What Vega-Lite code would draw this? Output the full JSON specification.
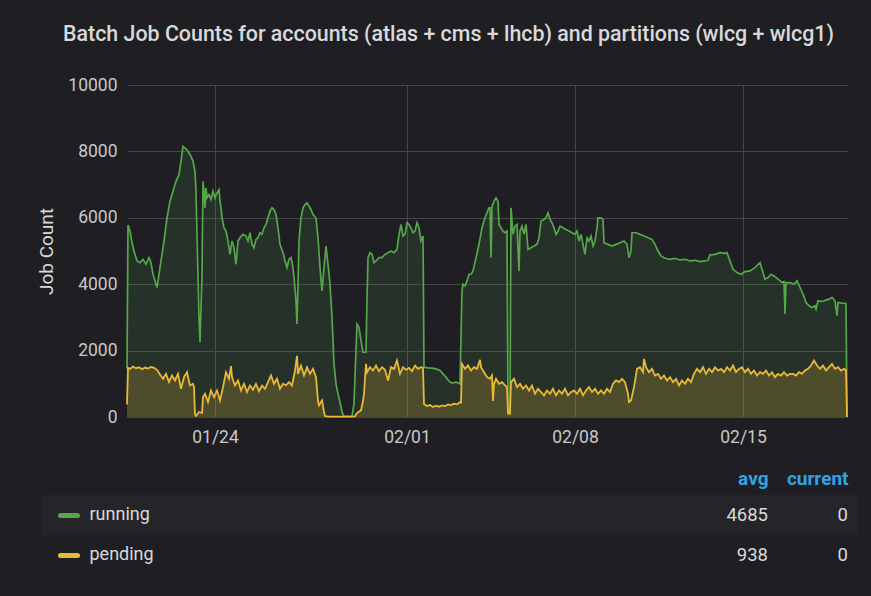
{
  "$schema": "https://vega.github.io/schema/vega-lite/v6.json",
  "background": "#1f1f23",
  "padding": {"left": 37, "top": 23, "right": 13, "bottom": 36},
  "autosize": {"type": "pad"},
  "spacing": 23,
  "config": {
    "font": "Roboto",
    "view": {"stroke": null},
    "axis": {"labelFont": "Roboto", "titleFont": "Roboto"},
    "text": {"font": "Roboto"}
  },
  "datasets": {
    "running": [
      {"t":"2021-01-20T08:00","v":1450},{"t":"2021-01-20T09:00","v":5780},{"t":"2021-01-20T11:00","v":5600},{"t":"2021-01-20T13:00","v":5250},
      {"t":"2021-01-20T15:00","v":5000},{"t":"2021-01-20T18:00","v":4700},{"t":"2021-01-20T21:00","v":4650},{"t":"2021-01-21T00:00","v":4750},
      {"t":"2021-01-21T03:00","v":4600},{"t":"2021-01-21T06:00","v":4800},{"t":"2021-01-21T08:00","v":4650},{"t":"2021-01-21T10:00","v":4300},
      {"t":"2021-01-21T12:00","v":4100},{"t":"2021-01-21T14:00","v":3900},{"t":"2021-01-21T16:00","v":4300},{"t":"2021-01-21T18:00","v":4700},
      {"t":"2021-01-21T21:00","v":5300},{"t":"2021-01-22T00:00","v":6000},{"t":"2021-01-22T03:00","v":6500},{"t":"2021-01-22T06:00","v":6800},
      {"t":"2021-01-22T09:00","v":7100},{"t":"2021-01-22T12:00","v":7300},{"t":"2021-01-22T14:00","v":7700},{"t":"2021-01-22T16:00","v":8150},
      {"t":"2021-01-22T18:00","v":8100},{"t":"2021-01-22T20:00","v":8050},{"t":"2021-01-22T22:00","v":7950},{"t":"2021-01-23T00:00","v":7850},
      {"t":"2021-01-23T02:00","v":7700},{"t":"2021-01-23T04:00","v":7400},{"t":"2021-01-23T05:00","v":6800},{"t":"2021-01-23T06:00","v":5500},
      {"t":"2021-01-23T07:00","v":4300},{"t":"2021-01-23T08:00","v":3000},{"t":"2021-01-23T09:00","v":2250},{"t":"2021-01-23T10:00","v":3300},
      {"t":"2021-01-23T11:00","v":4300},{"t":"2021-01-23T12:00","v":7100},{"t":"2021-01-23T13:00","v":6800},{"t":"2021-01-23T14:00","v":6300},
      {"t":"2021-01-23T15:00","v":6900},{"t":"2021-01-23T16:00","v":6600},{"t":"2021-01-23T18:00","v":6700},{"t":"2021-01-23T20:00","v":6550},
      {"t":"2021-01-23T22:00","v":6800},{"t":"2021-01-24T00:00","v":6600},{"t":"2021-01-24T02:00","v":6750},{"t":"2021-01-24T04:00","v":6850},
      {"t":"2021-01-24T05:00","v":6500},{"t":"2021-01-24T06:00","v":6300},{"t":"2021-01-24T07:00","v":6000},{"t":"2021-01-24T09:00","v":5700},
      {"t":"2021-01-24T11:00","v":5600},{"t":"2021-01-24T13:00","v":5300},{"t":"2021-01-24T15:00","v":4900},{"t":"2021-01-24T17:00","v":5300},
      {"t":"2021-01-24T19:00","v":5100},{"t":"2021-01-24T21:00","v":4600},{"t":"2021-01-24T23:00","v":5300},{"t":"2021-01-25T01:00","v":5400},
      {"t":"2021-01-25T04:00","v":5500},{"t":"2021-01-25T07:00","v":5450},{"t":"2021-01-25T09:00","v":5300},{"t":"2021-01-25T11:00","v":5550},
      {"t":"2021-01-25T13:00","v":5200},{"t":"2021-01-25T15:00","v":5100},{"t":"2021-01-25T17:00","v":5350},{"t":"2021-01-25T19:00","v":5400},
      {"t":"2021-01-25T21:00","v":5550},{"t":"2021-01-25T23:00","v":5500},{"t":"2021-01-26T01:00","v":5700},{"t":"2021-01-26T03:00","v":5800},
      {"t":"2021-01-26T05:00","v":6000},{"t":"2021-01-26T07:00","v":6200},{"t":"2021-01-26T09:00","v":6300},{"t":"2021-01-26T11:00","v":6250},
      {"t":"2021-01-26T13:00","v":6100},{"t":"2021-01-26T15:00","v":5700},{"t":"2021-01-26T17:00","v":5200},{"t":"2021-01-26T20:00","v":4950},
      {"t":"2021-01-26T22:00","v":4700},{"t":"2021-01-27T00:00","v":4500},{"t":"2021-01-27T02:00","v":4750},{"t":"2021-01-27T04:00","v":4800},
      {"t":"2021-01-27T06:00","v":4500},{"t":"2021-01-27T07:00","v":4200},{"t":"2021-01-27T09:00","v":3500},{"t":"2021-01-27T10:00","v":2800},
      {"t":"2021-01-27T11:00","v":4000},{"t":"2021-01-27T12:00","v":5300},{"t":"2021-01-27T14:00","v":6000},{"t":"2021-01-27T16:00","v":6300},
      {"t":"2021-01-27T18:00","v":6400},{"t":"2021-01-27T20:00","v":6450},{"t":"2021-01-27T22:00","v":6350},{"t":"2021-01-28T00:00","v":6250},
      {"t":"2021-01-28T02:00","v":6100},{"t":"2021-01-28T05:00","v":6000},{"t":"2021-01-28T07:00","v":5400},{"t":"2021-01-28T09:00","v":4500},
      {"t":"2021-01-28T11:00","v":3800},{"t":"2021-01-28T13:00","v":4500},{"t":"2021-01-28T15:00","v":5150},{"t":"2021-01-28T17:00","v":4600},
      {"t":"2021-01-28T19:00","v":4000},{"t":"2021-01-28T21:00","v":3000},{"t":"2021-01-28T23:00","v":1600},{"t":"2021-01-29T01:00","v":1000},
      {"t":"2021-01-29T03:00","v":700},{"t":"2021-01-29T05:00","v":450},{"t":"2021-01-29T07:00","v":150},{"t":"2021-01-29T09:00","v":20},
      {"t":"2021-01-29T13:00","v":20},{"t":"2021-01-29T17:00","v":20},{"t":"2021-01-29T19:00","v":400},{"t":"2021-01-29T21:00","v":2000},
      {"t":"2021-01-29T22:00","v":2800},{"t":"2021-01-30T00:00","v":2700},{"t":"2021-01-30T02:00","v":2300},{"t":"2021-01-30T04:00","v":1950},
      {"t":"2021-01-30T07:00","v":1950},{"t":"2021-01-30T08:00","v":3500},{"t":"2021-01-30T09:00","v":4800},{"t":"2021-01-30T11:00","v":4950},
      {"t":"2021-01-30T13:00","v":4900},{"t":"2021-01-30T15:00","v":4650},{"t":"2021-01-30T17:00","v":4700},{"t":"2021-01-30T20:00","v":4800},
      {"t":"2021-01-30T23:00","v":4800},{"t":"2021-01-31T02:00","v":4900},{"t":"2021-01-31T05:00","v":4950},{"t":"2021-01-31T08:00","v":5000},
      {"t":"2021-01-31T11:00","v":4950},{"t":"2021-01-31T14:00","v":5050},{"t":"2021-01-31T16:00","v":5500},{"t":"2021-01-31T18:00","v":5800},
      {"t":"2021-01-31T20:00","v":5450},{"t":"2021-01-31T22:00","v":5500},{"t":"2021-02-01T00:00","v":5850},{"t":"2021-02-01T02:00","v":5800},
      {"t":"2021-02-01T04:00","v":5700},{"t":"2021-02-01T06:00","v":5550},{"t":"2021-02-01T08:00","v":5600},{"t":"2021-02-01T10:00","v":5850},
      {"t":"2021-02-01T12:00","v":5700},{"t":"2021-02-01T14:00","v":5300},{"t":"2021-02-01T16:00","v":5450},{"t":"2021-02-01T17:00","v":1500},
      {"t":"2021-02-01T21:00","v":1480},{"t":"2021-02-02T01:00","v":1470},{"t":"2021-02-02T05:00","v":1450},{"t":"2021-02-02T09:00","v":1400},
      {"t":"2021-02-02T12:00","v":1300},{"t":"2021-02-02T15:00","v":1200},{"t":"2021-02-02T18:00","v":1080},{"t":"2021-02-02T21:00","v":1020},
      {"t":"2021-02-03T01:00","v":1050},{"t":"2021-02-03T05:00","v":1000},{"t":"2021-02-03T07:00","v":3800},{"t":"2021-02-03T08:00","v":4000},
      {"t":"2021-02-03T10:00","v":3950},{"t":"2021-02-03T12:00","v":4100},{"t":"2021-02-03T14:00","v":4300},{"t":"2021-02-03T16:00","v":4300},
      {"t":"2021-02-03T18:00","v":4400},{"t":"2021-02-03T21:00","v":4800},{"t":"2021-02-04T00:00","v":5200},{"t":"2021-02-04T03:00","v":5700},
      {"t":"2021-02-04T06:00","v":6000},{"t":"2021-02-04T08:00","v":6150},{"t":"2021-02-04T10:00","v":6300},{"t":"2021-02-04T11:00","v":6300},
      {"t":"2021-02-04T12:00","v":4800},{"t":"2021-02-04T13:00","v":6350},{"t":"2021-02-04T15:00","v":6500},{"t":"2021-02-04T17:00","v":6600},
      {"t":"2021-02-04T19:00","v":6500},{"t":"2021-02-04T20:00","v":5800},{"t":"2021-02-04T22:00","v":5700},{"t":"2021-02-05T00:00","v":5600},
      {"t":"2021-02-05T02:00","v":5550},{"t":"2021-02-05T04:00","v":5600},{"t":"2021-02-05T05:00","v":150},{"t":"2021-02-05T07:00","v":150},
      {"t":"2021-02-05T08:00","v":6300},{"t":"2021-02-05T10:00","v":5500},{"t":"2021-02-05T12:00","v":5750},{"t":"2021-02-05T14:00","v":5800},
      {"t":"2021-02-05T16:00","v":4400},{"t":"2021-02-05T17:00","v":5600},{"t":"2021-02-05T19:00","v":5750},{"t":"2021-02-05T21:00","v":5500},
      {"t":"2021-02-05T23:00","v":5800},{"t":"2021-02-06T01:00","v":5050},{"t":"2021-02-06T04:00","v":5100},{"t":"2021-02-06T07:00","v":5150},
      {"t":"2021-02-06T10:00","v":5200},{"t":"2021-02-06T12:00","v":5400},{"t":"2021-02-06T14:00","v":5900},{"t":"2021-02-06T17:00","v":5950},
      {"t":"2021-02-06T19:00","v":6000},{"t":"2021-02-06T21:00","v":6150},{"t":"2021-02-06T23:00","v":5950},{"t":"2021-02-07T01:00","v":5850},
      {"t":"2021-02-07T03:00","v":5700},{"t":"2021-02-07T05:00","v":5500},{"t":"2021-02-07T07:00","v":5600},{"t":"2021-02-07T09:00","v":5750},
      {"t":"2021-02-07T12:00","v":5700},{"t":"2021-02-07T15:00","v":5650},{"t":"2021-02-07T18:00","v":5600},{"t":"2021-02-07T21:00","v":5550},
      {"t":"2021-02-08T00:00","v":5500},{"t":"2021-02-08T02:00","v":5600},{"t":"2021-02-08T04:00","v":5300},{"t":"2021-02-08T06:00","v":5500},
      {"t":"2021-02-08T08:00","v":5200},{"t":"2021-02-08T10:00","v":4900},{"t":"2021-02-08T12:00","v":5400},{"t":"2021-02-08T14:00","v":5300},
      {"t":"2021-02-08T16:00","v":5450},{"t":"2021-02-08T18:00","v":5150},{"t":"2021-02-08T20:00","v":5300},{"t":"2021-02-08T22:00","v":5700},
      {"t":"2021-02-08T23:00","v":6000},{"t":"2021-02-09T02:00","v":6000},{"t":"2021-02-09T04:00","v":5950},{"t":"2021-02-09T05:00","v":5250},
      {"t":"2021-02-09T09:00","v":5200},{"t":"2021-02-09T13:00","v":5150},{"t":"2021-02-09T17:00","v":5200},{"t":"2021-02-09T21:00","v":5250},
      {"t":"2021-02-10T01:00","v":5300},{"t":"2021-02-10T04:00","v":5200},{"t":"2021-02-10T06:00","v":4800},{"t":"2021-02-10T08:00","v":5000},
      {"t":"2021-02-10T09:00","v":5550},{"t":"2021-02-10T13:00","v":5550},{"t":"2021-02-10T17:00","v":5500},{"t":"2021-02-10T21:00","v":5450},
      {"t":"2021-02-11T01:00","v":5400},{"t":"2021-02-11T05:00","v":5350},{"t":"2021-02-11T08:00","v":5200},{"t":"2021-02-11T11:00","v":5000},
      {"t":"2021-02-11T14:00","v":4850},{"t":"2021-02-11T18:00","v":4780},{"t":"2021-02-11T23:00","v":4750},{"t":"2021-02-12T04:00","v":4780},
      {"t":"2021-02-12T09:00","v":4730},{"t":"2021-02-12T14:00","v":4750},{"t":"2021-02-12T19:00","v":4700},{"t":"2021-02-13T00:00","v":4720},
      {"t":"2021-02-13T05:00","v":4680},{"t":"2021-02-13T10:00","v":4700},{"t":"2021-02-13T13:00","v":4720},{"t":"2021-02-13T15:00","v":4880},
      {"t":"2021-02-13T20:00","v":4900},{"t":"2021-02-14T01:00","v":4950},{"t":"2021-02-14T06:00","v":4930},{"t":"2021-02-14T08:00","v":4950},
      {"t":"2021-02-14T11:00","v":4700},{"t":"2021-02-14T14:00","v":4450},{"t":"2021-02-14T18:00","v":4350},{"t":"2021-02-14T22:00","v":4300},
      {"t":"2021-02-15T02:00","v":4380},{"t":"2021-02-15T07:00","v":4400},{"t":"2021-02-15T12:00","v":4500},{"t":"2021-02-15T17:00","v":4650},
      {"t":"2021-02-15T19:00","v":4450},{"t":"2021-02-15T22:00","v":4150},{"t":"2021-02-16T01:00","v":4200},{"t":"2021-02-16T04:00","v":4300},
      {"t":"2021-02-16T07:00","v":4250},{"t":"2021-02-16T11:00","v":4150},{"t":"2021-02-16T15:00","v":4050},{"t":"2021-02-16T17:00","v":4080},
      {"t":"2021-02-16T18:00","v":3100},{"t":"2021-02-16T19:00","v":4050},{"t":"2021-02-16T23:00","v":4050},{"t":"2021-02-17T03:00","v":4000},
      {"t":"2021-02-17T06:00","v":4100},{"t":"2021-02-17T09:00","v":3900},{"t":"2021-02-17T12:00","v":3700},{"t":"2021-02-17T15:00","v":3450},
      {"t":"2021-02-17T18:00","v":3350},{"t":"2021-02-17T21:00","v":3300},{"t":"2021-02-18T00:00","v":3350},{"t":"2021-02-18T01:00","v":3250},
      {"t":"2021-02-18T03:00","v":3500},{"t":"2021-02-18T07:00","v":3480},{"t":"2021-02-18T11:00","v":3520},{"t":"2021-02-18T14:00","v":3550},
      {"t":"2021-02-18T17:00","v":3600},{"t":"2021-02-18T20:00","v":3500},{"t":"2021-02-18T22:00","v":3050},{"t":"2021-02-18T23:00","v":3450},
      {"t":"2021-02-19T03:00","v":3430},{"t":"2021-02-19T07:00","v":3420},{"t":"2021-02-19T08:00","v":0}
    ],
    "pending": [
      {"t":"2021-01-20T08:00","v":380},{"t":"2021-01-20T09:00","v":1480},{"t":"2021-01-20T11:00","v":1450},{"t":"2021-01-20T14:00","v":1520},
      {"t":"2021-01-20T17:00","v":1470},{"t":"2021-01-20T20:00","v":1500},{"t":"2021-01-20T23:00","v":1440},{"t":"2021-01-21T02:00","v":1490},
      {"t":"2021-01-21T05:00","v":1460},{"t":"2021-01-21T08:00","v":1510},{"t":"2021-01-21T11:00","v":1480},{"t":"2021-01-21T14:00","v":1420},
      {"t":"2021-01-21T17:00","v":1280},{"t":"2021-01-21T20:00","v":1150},{"t":"2021-01-21T23:00","v":1300},{"t":"2021-01-22T02:00","v":1050},
      {"t":"2021-01-22T05:00","v":1250},{"t":"2021-01-22T08:00","v":1100},{"t":"2021-01-22T11:00","v":1300},{"t":"2021-01-22T14:00","v":850},
      {"t":"2021-01-22T17:00","v":1200},{"t":"2021-01-22T20:00","v":1350},{"t":"2021-01-22T23:00","v":950},{"t":"2021-01-23T02:00","v":1000},
      {"t":"2021-01-23T03:00","v":900},{"t":"2021-01-23T04:00","v":80},{"t":"2021-01-23T05:00","v":30},{"t":"2021-01-23T08:00","v":150},
      {"t":"2021-01-23T11:00","v":120},{"t":"2021-01-23T12:00","v":600},{"t":"2021-01-23T14:00","v":700},{"t":"2021-01-23T17:00","v":450},
      {"t":"2021-01-23T20:00","v":800},{"t":"2021-01-23T23:00","v":600},{"t":"2021-01-24T02:00","v":800},{"t":"2021-01-24T05:00","v":500},
      {"t":"2021-01-24T08:00","v":900},{"t":"2021-01-24T11:00","v":1350},{"t":"2021-01-24T14:00","v":1150},{"t":"2021-01-24T16:00","v":1530},
      {"t":"2021-01-24T17:00","v":1200},{"t":"2021-01-24T20:00","v":950},{"t":"2021-01-24T23:00","v":1100},{"t":"2021-01-25T02:00","v":800},
      {"t":"2021-01-25T05:00","v":1000},{"t":"2021-01-25T08:00","v":750},{"t":"2021-01-25T11:00","v":950},{"t":"2021-01-25T14:00","v":820},
      {"t":"2021-01-25T17:00","v":1000},{"t":"2021-01-25T20:00","v":780},{"t":"2021-01-25T23:00","v":950},{"t":"2021-01-26T02:00","v":850},
      {"t":"2021-01-26T05:00","v":1050},{"t":"2021-01-26T08:00","v":1250},{"t":"2021-01-26T11:00","v":1000},{"t":"2021-01-26T14:00","v":1150},
      {"t":"2021-01-26T17:00","v":850},{"t":"2021-01-26T20:00","v":1000},{"t":"2021-01-26T23:00","v":950},{"t":"2021-01-27T02:00","v":1050},
      {"t":"2021-01-27T05:00","v":950},{"t":"2021-01-27T08:00","v":1400},{"t":"2021-01-27T10:00","v":1840},{"t":"2021-01-27T11:00","v":1300},
      {"t":"2021-01-27T14:00","v":1550},{"t":"2021-01-27T17:00","v":1250},{"t":"2021-01-27T20:00","v":1500},{"t":"2021-01-27T23:00","v":1300},
      {"t":"2021-01-28T02:00","v":1450},{"t":"2021-01-28T05:00","v":1200},{"t":"2021-01-28T07:00","v":480},{"t":"2021-01-28T08:00","v":350},
      {"t":"2021-01-28T11:00","v":500},{"t":"2021-01-28T13:00","v":150},{"t":"2021-01-28T14:00","v":30},{"t":"2021-01-28T17:00","v":10},
      {"t":"2021-01-29T02:00","v":10},{"t":"2021-01-29T11:00","v":10},{"t":"2021-01-29T20:00","v":20},{"t":"2021-01-29T22:00","v":120},
      {"t":"2021-01-30T02:00","v":200},{"t":"2021-01-30T04:00","v":480},{"t":"2021-01-30T05:00","v":700},{"t":"2021-01-30T07:00","v":1600},
      {"t":"2021-01-30T08:00","v":1350},{"t":"2021-01-30T11:00","v":1500},{"t":"2021-01-30T14:00","v":1400},{"t":"2021-01-30T17:00","v":1550},
      {"t":"2021-01-30T20:00","v":1380},{"t":"2021-01-30T23:00","v":1500},{"t":"2021-01-31T02:00","v":1420},{"t":"2021-01-31T05:00","v":1100},
      {"t":"2021-01-31T08:00","v":1500},{"t":"2021-01-31T11:00","v":1450},{"t":"2021-01-31T14:00","v":1700},{"t":"2021-01-31T17:00","v":1300},
      {"t":"2021-01-31T20:00","v":1500},{"t":"2021-01-31T23:00","v":1420},{"t":"2021-02-01T02:00","v":1480},{"t":"2021-02-01T05:00","v":1380},
      {"t":"2021-02-01T08:00","v":1550},{"t":"2021-02-01T11:00","v":1450},{"t":"2021-02-01T14:00","v":1500},{"t":"2021-02-01T16:00","v":1480},
      {"t":"2021-02-01T17:00","v":390},{"t":"2021-02-01T20:00","v":330},{"t":"2021-02-01T23:00","v":360},{"t":"2021-02-02T02:00","v":300},
      {"t":"2021-02-02T05:00","v":340},{"t":"2021-02-02T08:00","v":310},{"t":"2021-02-02T11:00","v":350},{"t":"2021-02-02T14:00","v":330},
      {"t":"2021-02-02T17:00","v":380},{"t":"2021-02-02T20:00","v":360},{"t":"2021-02-02T23:00","v":400},{"t":"2021-02-03T02:00","v":380},
      {"t":"2021-02-03T05:00","v":450},{"t":"2021-02-03T06:00","v":430},{"t":"2021-02-03T07:00","v":1600},{"t":"2021-02-03T10:00","v":1450},
      {"t":"2021-02-03T13:00","v":1550},{"t":"2021-02-03T16:00","v":1400},{"t":"2021-02-03T19:00","v":1500},{"t":"2021-02-03T22:00","v":1450},
      {"t":"2021-02-04T01:00","v":1720},{"t":"2021-02-04T02:00","v":1500},{"t":"2021-02-04T05:00","v":1350},{"t":"2021-02-04T08:00","v":1200},
      {"t":"2021-02-04T11:00","v":1150},{"t":"2021-02-04T13:00","v":1250},{"t":"2021-02-04T14:00","v":480},{"t":"2021-02-04T15:00","v":1000},
      {"t":"2021-02-04T17:00","v":1150},{"t":"2021-02-04T20:00","v":1000},{"t":"2021-02-04T23:00","v":1050},{"t":"2021-02-05T02:00","v":950},
      {"t":"2021-02-05T04:00","v":900},{"t":"2021-02-05T05:00","v":100},{"t":"2021-02-05T07:00","v":100},{"t":"2021-02-05T08:00","v":1050},
      {"t":"2021-02-05T11:00","v":1150},{"t":"2021-02-05T14:00","v":900},{"t":"2021-02-05T17:00","v":1000},{"t":"2021-02-05T20:00","v":850},
      {"t":"2021-02-05T23:00","v":950},{"t":"2021-02-06T02:00","v":800},{"t":"2021-02-06T05:00","v":950},{"t":"2021-02-06T08:00","v":700},
      {"t":"2021-02-06T11:00","v":850},{"t":"2021-02-06T14:00","v":750},{"t":"2021-02-06T17:00","v":650},{"t":"2021-02-06T20:00","v":800},
      {"t":"2021-02-06T23:00","v":700},{"t":"2021-02-07T02:00","v":850},{"t":"2021-02-07T05:00","v":650},{"t":"2021-02-07T08:00","v":800},
      {"t":"2021-02-07T11:00","v":700},{"t":"2021-02-07T14:00","v":850},{"t":"2021-02-07T17:00","v":650},{"t":"2021-02-07T20:00","v":750},
      {"t":"2021-02-07T23:00","v":800},{"t":"2021-02-08T02:00","v":700},{"t":"2021-02-08T05:00","v":850},{"t":"2021-02-08T08:00","v":650},
      {"t":"2021-02-08T11:00","v":800},{"t":"2021-02-08T14:00","v":900},{"t":"2021-02-08T17:00","v":750},{"t":"2021-02-08T20:00","v":850},
      {"t":"2021-02-08T23:00","v":700},{"t":"2021-02-09T02:00","v":800},{"t":"2021-02-09T05:00","v":700},{"t":"2021-02-09T08:00","v":850},
      {"t":"2021-02-09T11:00","v":750},{"t":"2021-02-09T14:00","v":1000},{"t":"2021-02-09T17:00","v":1100},{"t":"2021-02-09T20:00","v":1050},
      {"t":"2021-02-09T23:00","v":1150},{"t":"2021-02-10T02:00","v":1050},{"t":"2021-02-10T05:00","v":700},{"t":"2021-02-10T06:00","v":450},
      {"t":"2021-02-10T08:00","v":500},{"t":"2021-02-10T11:00","v":900},{"t":"2021-02-10T14:00","v":1450},{"t":"2021-02-10T17:00","v":1500},
      {"t":"2021-02-10T20:00","v":1350},{"t":"2021-02-10T21:00","v":1750},{"t":"2021-02-10T23:00","v":1500},{"t":"2021-02-11T02:00","v":1350},
      {"t":"2021-02-11T05:00","v":1450},{"t":"2021-02-11T08:00","v":1250},{"t":"2021-02-11T11:00","v":1300},{"t":"2021-02-11T14:00","v":1150},
      {"t":"2021-02-11T17:00","v":1250},{"t":"2021-02-11T20:00","v":1100},{"t":"2021-02-11T23:00","v":1200},{"t":"2021-02-12T02:00","v":1050},
      {"t":"2021-02-12T05:00","v":1150},{"t":"2021-02-12T08:00","v":950},{"t":"2021-02-12T11:00","v":1100},{"t":"2021-02-12T14:00","v":1000},
      {"t":"2021-02-12T17:00","v":1150},{"t":"2021-02-12T20:00","v":1050},{"t":"2021-02-12T23:00","v":1300},{"t":"2021-02-13T02:00","v":1450},
      {"t":"2021-02-13T05:00","v":1350},{"t":"2021-02-13T08:00","v":1500},{"t":"2021-02-13T11:00","v":1300},{"t":"2021-02-13T14:00","v":1450},
      {"t":"2021-02-13T17:00","v":1350},{"t":"2021-02-13T20:00","v":1500},{"t":"2021-02-13T23:00","v":1400},{"t":"2021-02-14T02:00","v":1450},
      {"t":"2021-02-14T05:00","v":1350},{"t":"2021-02-14T08:00","v":1500},{"t":"2021-02-14T11:00","v":1400},{"t":"2021-02-14T14:00","v":1550},
      {"t":"2021-02-14T17:00","v":1350},{"t":"2021-02-14T20:00","v":1450},{"t":"2021-02-14T23:00","v":1500},{"t":"2021-02-15T02:00","v":1350},
      {"t":"2021-02-15T05:00","v":1450},{"t":"2021-02-15T08:00","v":1300},{"t":"2021-02-15T11:00","v":1400},{"t":"2021-02-15T14:00","v":1250},
      {"t":"2021-02-15T17:00","v":1350},{"t":"2021-02-15T20:00","v":1300},{"t":"2021-02-15T23:00","v":1400},{"t":"2021-02-16T02:00","v":1250},
      {"t":"2021-02-16T05:00","v":1350},{"t":"2021-02-16T08:00","v":1200},{"t":"2021-02-16T11:00","v":1300},{"t":"2021-02-16T14:00","v":1250},
      {"t":"2021-02-16T17:00","v":1350},{"t":"2021-02-16T20:00","v":1250},{"t":"2021-02-16T23:00","v":1300},{"t":"2021-02-17T02:00","v":1300},
      {"t":"2021-02-17T05:00","v":1250},{"t":"2021-02-17T08:00","v":1350},{"t":"2021-02-17T11:00","v":1300},{"t":"2021-02-17T14:00","v":1400},
      {"t":"2021-02-17T17:00","v":1450},{"t":"2021-02-17T20:00","v":1550},{"t":"2021-02-17T23:00","v":1700},{"t":"2021-02-18T02:00","v":1550},
      {"t":"2021-02-18T05:00","v":1450},{"t":"2021-02-18T08:00","v":1550},{"t":"2021-02-18T11:00","v":1400},{"t":"2021-02-18T14:00","v":1500},
      {"t":"2021-02-18T17:00","v":1600},{"t":"2021-02-18T20:00","v":1450},{"t":"2021-02-18T23:00","v":1500},{"t":"2021-02-19T02:00","v":1400},
      {"t":"2021-02-19T05:00","v":1450},{"t":"2021-02-19T07:00","v":1400},{"t":"2021-02-19T08:00","v":0}
    ],
    "legend": [
      {"series":"running","col":"avg","val":"4685"},
      {"series":"running","col":"current","val":"0"},
      {"series":"pending","col":"avg","val":"938"},
      {"series":"pending","col":"current","val":"0"}
    ]
  },
  "vconcat": [
    {
      "width": 816,
      "height": 332,
      "title": {
        "text": "Batch Job Counts for accounts (atlas + cms + lhcb) and partitions (wlcg + wlcg1)",
        "anchor": "start", "frame": "group", "dx": 21, "offset": 31,
        "font": "Roboto", "fontSize": 21.4, "fontWeight": 500, "color": "#d8d9da"
      },
      "encoding": {
        "x": {
          "field": "t", "type": "temporal",
          "scale": {
            "domain": [{"year":2021,"month":1,"date":20,"hours":8},{"year":2021,"month":2,"date":19,"hours":8}],
            "range": [85, 805], "nice": false
          },
          "axis": {
            "values": [{"year":2021,"month":1,"date":24},{"year":2021,"month":2,"date":1},{"year":2021,"month":2,"date":8},{"year":2021,"month":2,"date":15}],
            "format": "%m/%d", "title": null, "grid": true, "gridColor": "#46464a", "gridWidth": 1,
            "domain": false, "ticks": false, "labelPadding": 11, "labelFontSize": 17.5, "labelColor": "#c7c7c9"
          }
        },
        "y": {
          "field": "v", "type": "quantitative",
          "scale": {"domain": [0, 10000], "nice": false},
          "axis": {
            "values": [0, 2000, 4000, 6000, 8000, 10000], "format": "d", "offset": -85,
            "grid": true, "gridColor": "#46464a", "gridWidth": 1, "domain": false, "ticks": false,
            "labelPadding": 10, "labelFontSize": 17.5, "labelColor": "#c7c7c9",
            "title": "Job Count", "titleFontSize": 19, "titleFontWeight": "normal", "titleColor": "#d8d9da", "titlePadding": 11
          }
        }
      },
      "layer": [
        {"data": {"name": "running"}, "mark": {"type": "area", "color": "#56a64b", "fillOpacity": 0.14}},
        {"data": {"name": "running"}, "mark": {"type": "line", "color": "#56a64b", "strokeWidth": 1.7}},
        {"data": {"name": "pending"}, "mark": {"type": "area", "color": "#eab839", "fillOpacity": 0.2}},
        {"data": {"name": "pending"}, "mark": {"type": "line", "color": "#eab839", "strokeWidth": 1.8}}
      ]
    },
    {
      "width": 816,
      "height": 80,
      "data": {"name": "legend"},
      "encoding": {
        "y": {
          "field": "series", "type": "nominal",
          "scale": {"domain": ["running", "pending"], "paddingInner": 0, "paddingOuter": 0},
          "axis": {
            "orient": "left", "offset": -35, "title": null, "domain": false, "grid": false,
            "ticks": true, "tickSize": 17, "tickWidth": 5, "tickCap": "round", "bandPosition": 0.5,
            "tickColor": {"condition": {"test": "datum.value === 'running'", "value": "#56a64b"}, "value": "#eab839"},
            "labelAlign": "left", "labelBaseline": "middle", "labelPadding": -29,
            "labelFontSize": 18, "labelColor": "#d8d9da"
          }
        }
      },
      "layer": [
        {
          "transform": [{"filter": "datum.series === 'running' && datum.col === 'avg'"}],
          "mark": {"type": "rect", "color": "#252529"},
          "encoding": {"x": {"value": 0}, "x2": {"value": "width"}}
        },
        {
          "mark": {"type": "text", "align": "right", "baseline": "middle", "fontSize": 18.5, "color": "#d8d9da"},
          "encoding": {
            "x": {
              "field": "col", "type": "nominal",
              "scale": {"type": "point", "domain": ["avg", "current"], "range": [726, 806], "padding": 0},
              "axis": {
                "orient": "top", "title": null, "domain": false, "ticks": false, "grid": false,
                "labelAlign": "right", "labelColor": "#33a2e5", "labelFontWeight": "bold",
                "labelFontSize": 19, "labelPadding": 7, "labelAngle": 0
              }
            },
            "text": {"field": "val"}
          }
        }
      ]
    }
  ]
}
